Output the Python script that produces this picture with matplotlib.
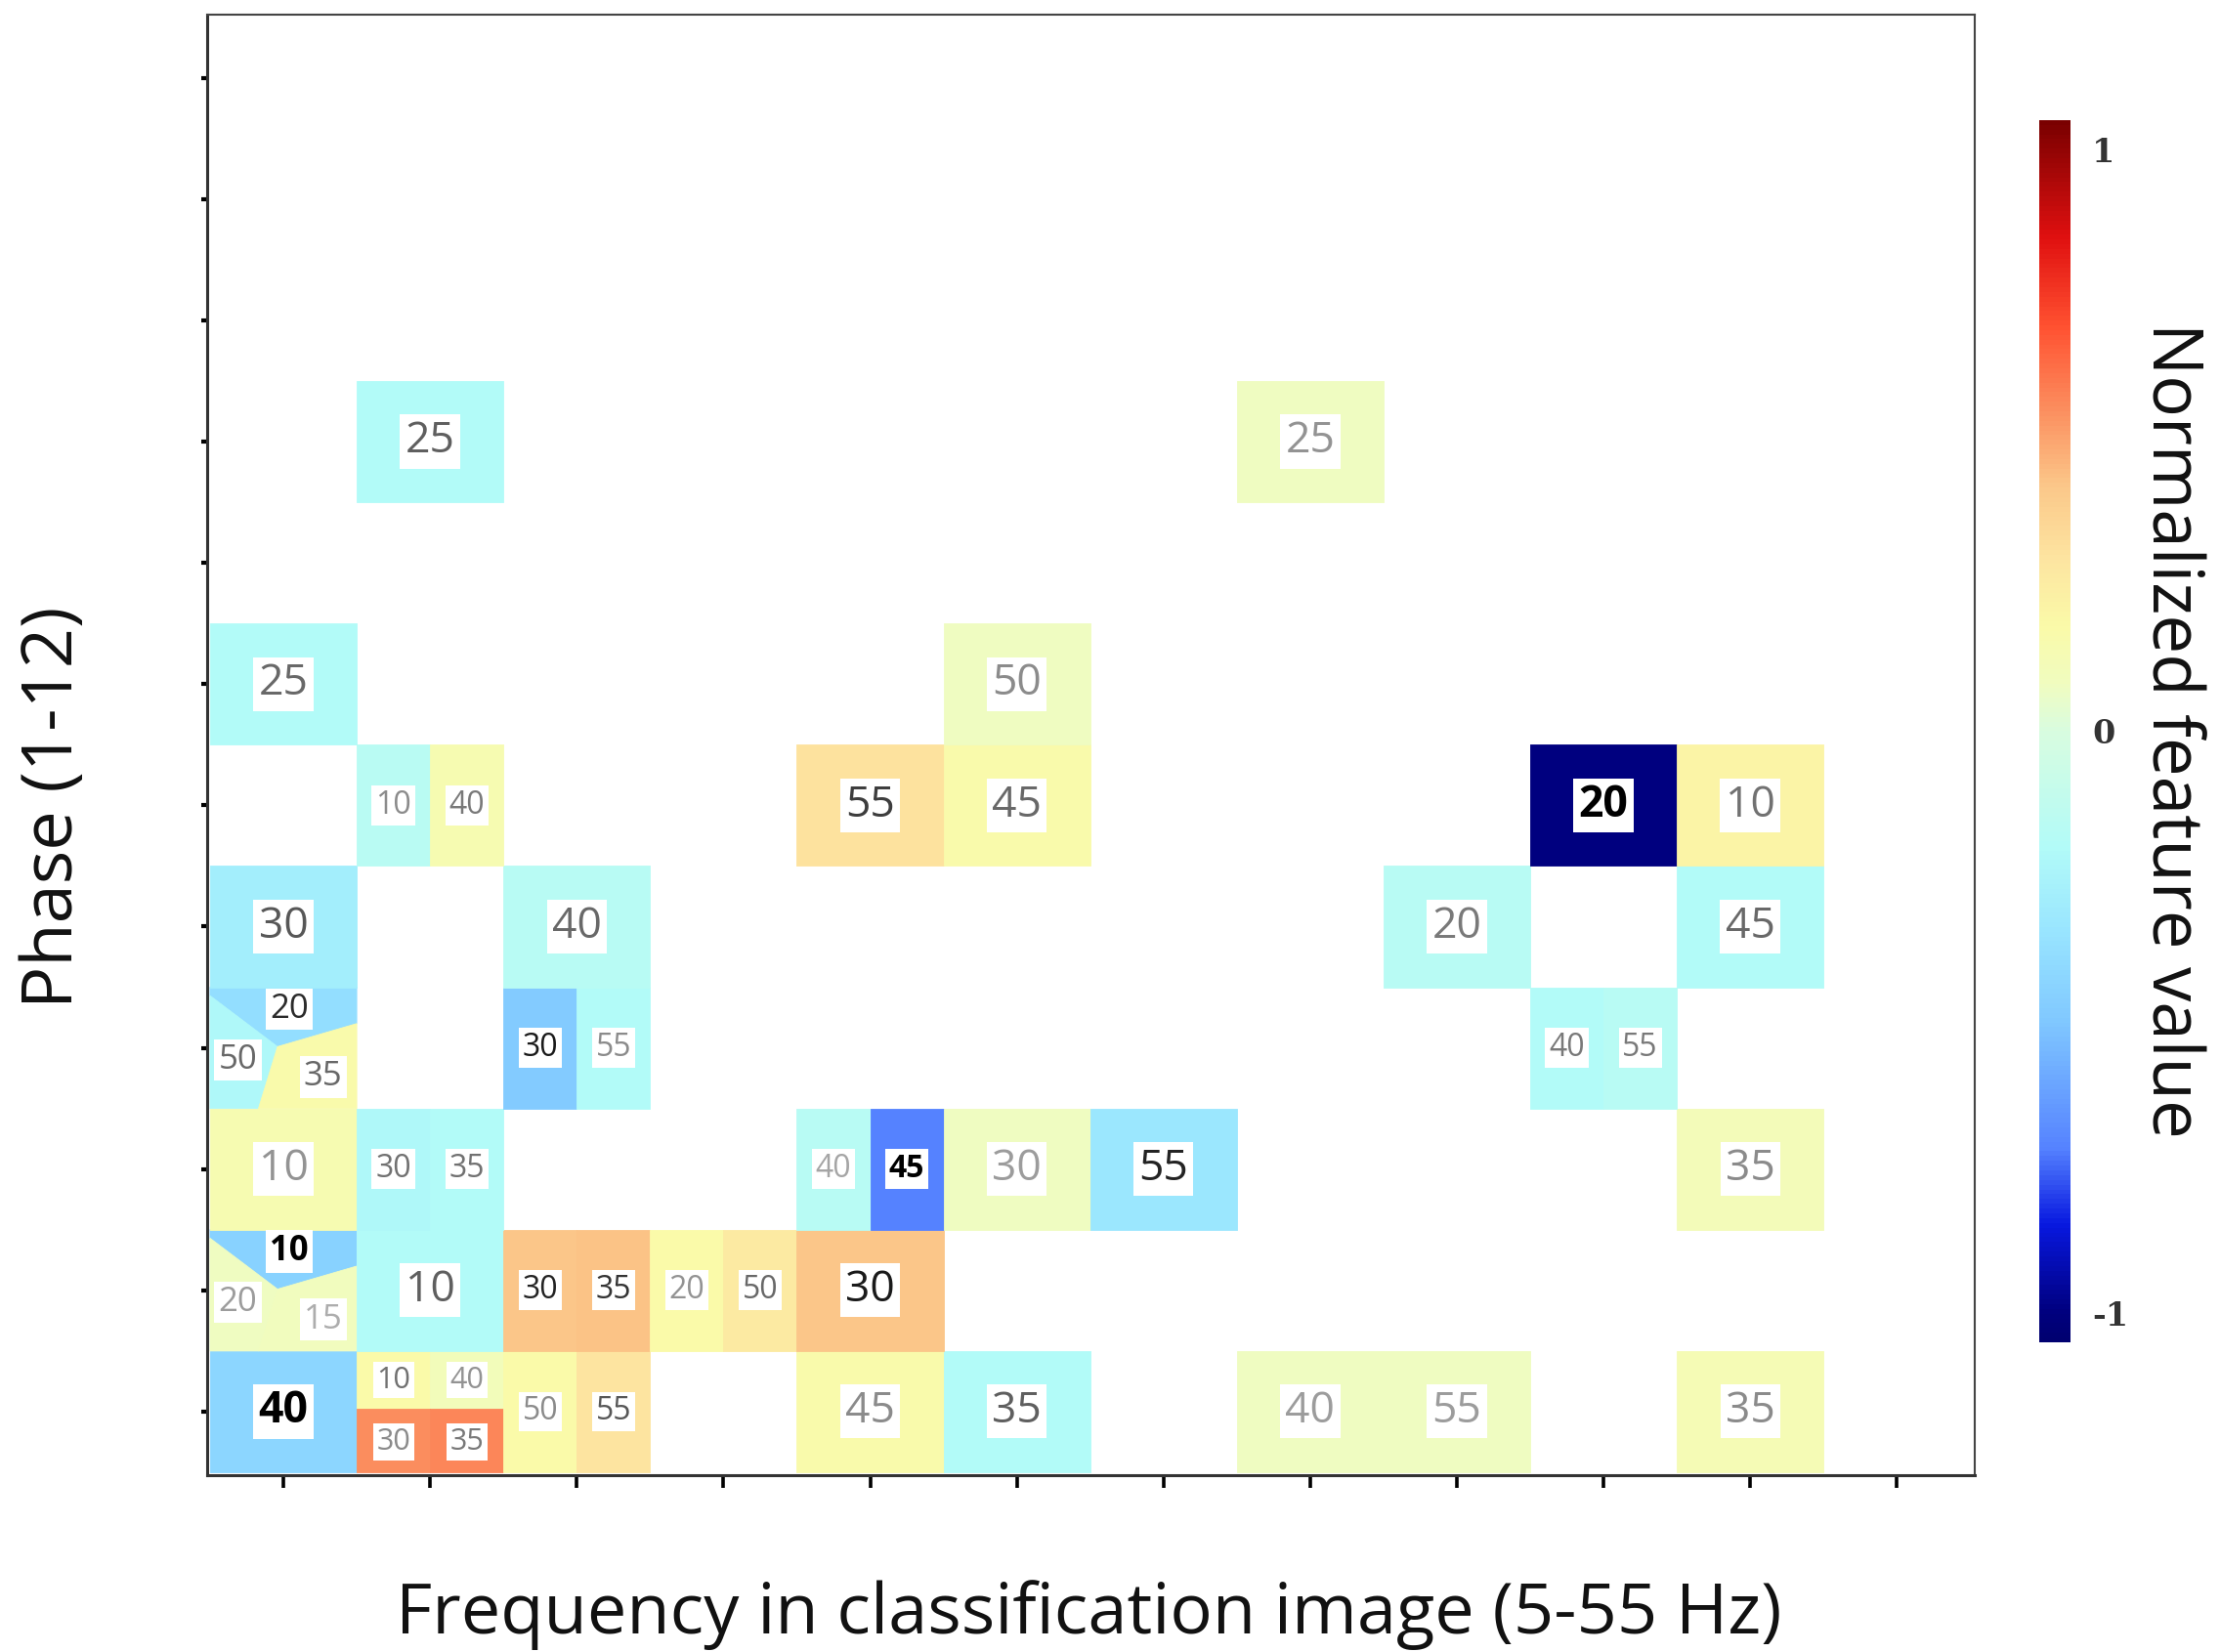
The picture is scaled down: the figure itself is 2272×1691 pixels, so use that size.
import matplotlib
matplotlib.use("Agg")
import matplotlib.pyplot as plt
from matplotlib.colors import LinearSegmentedColormap, Normalize
from matplotlib.patches import Polygon
from matplotlib.collections import PatchCollection

# grid: 12 frequency bins x 12 phases
n_freq = 12
n_phase = 12

# one entry per coloured patch (column, row, part of the cell, value, label, label darkness)
patch_col = [1, 2, 2, 2, 2, 3, 3, 5, 6, 8, 9, 11,          # phase 1
             1, 1, 1, 2, 3, 3, 4, 4, 5,                    # phase 2
             1, 2, 2, 5, 5, 6, 7, 11,                      # phase 3
             1, 1, 1, 3, 3, 10, 10,                        # phase 4
             1, 3, 9, 11,                                  # phase 5
             2, 2, 5, 6, 10, 11,                           # phase 6
             1, 6,                                         # phase 7
             2, 8]                                         # phase 9
patch_row = [1] * 12 + [2] * 9 + [3] * 8 + [4] * 7 + [5] * 4 + [6] * 6 + [7] * 2 + [9] * 2
patch_part = ['full', 'TL', 'TR', 'BL', 'BR', 'L', 'R', 'full', 'full', 'full', 'full', 'full',
              'tri_top', 'tri_left', 'tri_right', 'full', 'L', 'R', 'L', 'R', 'full',
              'full', 'L', 'R', 'L', 'R', 'full', 'full', 'full',
              'tri_top', 'tri_left', 'tri_right', 'L', 'R', 'L', 'R',
              'full', 'full', 'full', 'full',
              'L', 'R', 'full', 'full', 'full', 'full',
              'full', 'full',
              'full', 'full']
patch_value = [-0.42, 0.18, 0.10, 0.55, 0.57, 0.18, 0.30, 0.17, -0.20, 0.08, 0.08, 0.13,
               -0.45, 0.08, 0.09, -0.20, 0.42, 0.43, 0.18, 0.27, 0.42,
               0.14, -0.22, -0.20, -0.17, -0.72, 0.08, -0.33, 0.11,
               -0.38, -0.22, 0.17, -0.48, -0.20, -0.20, -0.17,
               -0.28, -0.17, -0.17, -0.20,
               -0.16, 0.14, 0.31, 0.17, -1.00, 0.21,
               -0.20, 0.08,
               -0.20, 0.08]
patch_label = ['40', '10', '40', '30', '35', '50', '55', '45', '35', '40', '55', '35',
               '10', '20', '15', '10', '30', '35', '20', '50', '30',
               '10', '30', '35', '40', '45', '30', '55', '35',
               '20', '50', '35', '30', '55', '40', '55',
               '30', '40', '20', '45',
               '10', '40', '55', '45', '20', '10',
               '25', '50',
               '25', '25']
label_shade = [1.0, 0.35, 0.15, 0.2, 0.3, 0.2, 0.5, 0.2, 0.45, 0.1, 0.1, 0.2,
               1.0, 0.1, 0.0, 0.45, 0.8, 0.7, 0.15, 0.4, 0.85,
               0.15, 0.35, 0.35, 0.05, 1.0, 0.1, 0.8, 0.2,
               0.75, 0.4, 0.4, 0.85, 0.2, 0.3, 0.3,
               0.5, 0.4, 0.3, 0.4,
               0.2, 0.3, 0.65, 0.4, 1.0, 0.35,
               0.4, 0.2,
               0.45, 0.15]

cbar_ticks = [-1, 0, 1]
cbar_ticklabels = ['-1', '0', '1']

# colour scale (jet-like, pale around zero)
vmin, vmax = -1.05, 1.05
cmap_stops = [(-1.05, '#000070'), (-1.0, '#00007f'), (-0.85, '#0818e0'), (-0.72, '#5582ff'),
              (-0.5, '#80c8ff'), (-0.35, '#98e4ff'), (-0.2, '#b2fbf8'), (0.0, '#d8fce0'),
              (0.08, '#f0fcc0'), (0.18, '#fafaa8'), (0.3, '#fde4a0'), (0.42, '#fbc88a'),
              (0.55, '#fb9060'), (0.7, '#ff5030'), (0.85, '#e01010'), (1.05, '#7a0000')]
cmap = LinearSegmentedColormap.from_list(
    'feat', [((v - vmin) / (vmax - vmin), c) for v, c in cmap_stops])
norm = Normalize(vmin, vmax)

# shape of each part inside a unit cell (x from left, y from bottom)
shapes = {
    'full': [(0, 0), (1, 0), (1, 1), (0, 1)],
    'L': [(0, 0), (0.5, 0), (0.5, 1), (0, 1)],
    'R': [(0.5, 0), (1, 0), (1, 1), (0.5, 1)],
    'TL': [(0, 0.52), (0.5, 0.52), (0.5, 1), (0, 1)],
    'TR': [(0.5, 0.52), (1, 0.52), (1, 1), (0.5, 1)],
    'BL': [(0, 0), (0.5, 0), (0.5, 0.52), (0, 0.52)],
    'BR': [(0.5, 0), (1, 0), (1, 0.52), (0.5, 0.52)],
    'tri_top': [(0, 1), (0, 0.93), (0.46, 0.51), (1, 0.70), (1, 1)],
    'tri_left': [(0, 0), (0.33, 0), (0.46, 0.51), (0, 0.93)],
    'tri_right': [(0.33, 0), (1, 0), (1, 0.70), (0.46, 0.51)],
}
label_pos = {'full': (0.5, 0.5), 'L': (0.25, 0.5), 'R': (0.75, 0.5),
             'TL': (0.25, 0.76), 'TR': (0.75, 0.76), 'BL': (0.25, 0.25), 'BR': (0.75, 0.25),
             'tri_top': (0.54, 0.82), 'tri_left': (0.19, 0.40), 'tri_right': (0.77, 0.26)}
label_size = {'full': 32, 'L': 23, 'R': 23, 'TL': 22, 'TR': 22, 'BL': 22, 'BR': 22,
              'tri_top': 25, 'tri_left': 25, 'tri_right': 25}

fig = plt.figure(figsize=(22.72, 16.91), dpi=100)
ax = fig.add_axes([0.0933, 0.1070, 0.7962, 0.8844])

polys = []
for c, r, p in zip(patch_col, patch_row, patch_part):
    pts = [(c - 0.5 + x, r - 0.5 + y) for x, y in shapes[p]]
    polys.append(Polygon(pts, closed=True))
pc = PatchCollection(polys, cmap=cmap, norm=norm, edgecolor='face', linewidth=0.6)
pc.set_array(patch_value)
ax.add_collection(pc)

for c, r, p, lab, s in zip(patch_col, patch_row, patch_part, patch_label, label_shade):
    lx, ly = label_pos[p]
    g = 0.68 - 0.68 * s
    ax.text(c - 0.5 + lx, r - 0.5 + ly, lab, ha='center', va='center',
            fontsize=label_size[p], family='Open Sans', color=(g, g, g),
            fontweight='bold' if s >= 0.95 else 'normal',
            bbox=dict(boxstyle='square,pad=0.12', fc='white', ec='none'))

ax.set_xlim(0.48, n_freq + 0.53)
ax.set_ylim(0.475, n_phase + 0.525)
ax.set_xticks(range(1, n_freq + 1))
ax.set_yticks(range(1, n_phase + 1))
ax.set_xticklabels([])
ax.set_yticklabels([])
ax.tick_params(axis='x', direction='out', length=9, width=2.6, color='black')
ax.tick_params(axis='y', direction='out', length=4, width=3, color='black')
for side in ['left', 'bottom']:
    ax.spines[side].set_linewidth(2.2)
    ax.spines[side].set_color('#333333')
for side in ['top', 'right']:
    ax.spines[side].set_linewidth(1.5)
    ax.spines[side].set_color('#444444')

fig.text(0.4905, 0.0225, 'Frequency in classification image (5-55 Hz)', ha='center', va='center',
         fontsize=52, family='Open Sans', color='#111111')
fig.text(0.0245, 0.5115, 'Phase (1-12)', ha='center', va='center', rotation=90,
         fontsize=52, family='Open Sans', color='#111111')

# colour bar
cax = fig.add_axes([0.9186, 0.1875, 0.0141, 0.7398])
cb = fig.colorbar(pc, cax=cax, ticks=cbar_ticks)
cb.outline.set_visible(False)
cb.ax.set_yticklabels(cbar_ticklabels, family='DejaVu Serif', fontweight='bold',
                      fontsize=24, color='#333333')
cb.ax.tick_params(length=0, pad=16)
fig.text(0.9776, 0.5577, 'Normalized feature value', ha='center', va='center', rotation=270,
         fontsize=51, family='Open Sans', color='#111111')

fig.savefig('out.png', dpi=100, facecolor='white')
